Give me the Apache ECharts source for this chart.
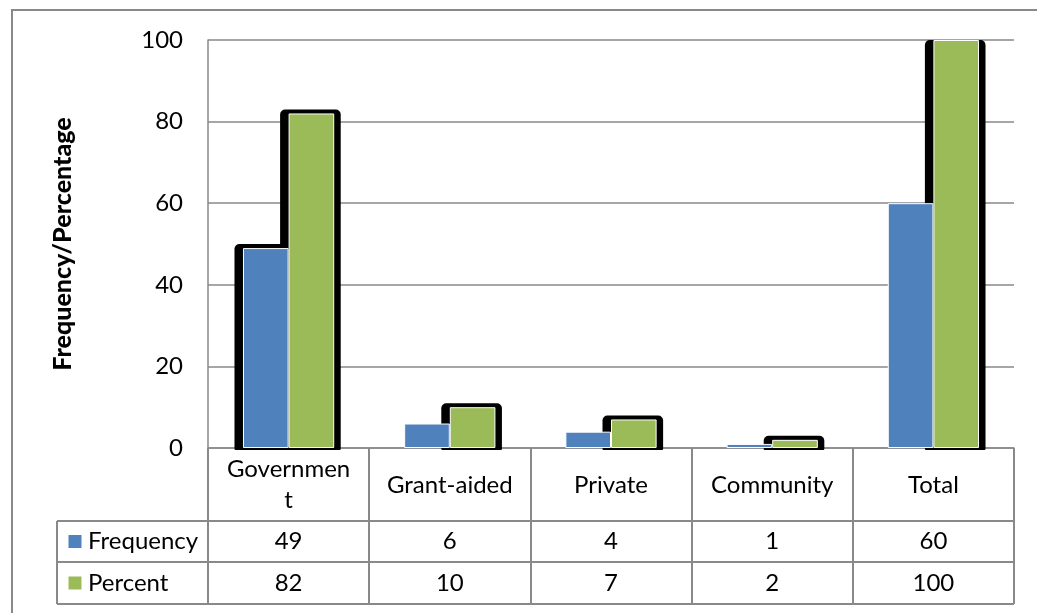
<!DOCTYPE html>
<html>
<head>
<meta charset="utf-8">
<title>Frequency/Percentage by school type</title>
<script src="https://cdn.jsdelivr.net/npm/echarts@6/dist/echarts.min.js"></script>
<style>
  html, body { margin: 0; padding: 0; background: #ffffff; }
  #chart { width: 1037px; height: 613px; }
</style>
</head>
<body>
<div id="chart"></div>
<script>
// Data
const categories = ['Government', 'Grant-aided', 'Private', 'Community', 'Total'];
const frequency = [49, 6, 4, 1, 60];
const percent = [82, 10, 7, 2, 100];
const yTicks = [0, 20, 40, 60, 80, 100];
const seriesNames = ['Frequency', 'Percent'];
const seriesColors = ['#4F81BD', '#9BBB59'];
// which bars carry the black drop shape
const frequencyShadow = [true, false, false, false, false];
const percentShadow = [true, true, true, true, true];

// Styling constants
const FONT = 'Lato';
const LINE = '#898989';
const BAR_FRACTION = 0.283;   // width of one bar as a share of the category band
const ROW_OFFSETS = [73, 114, 156]; // table row bottoms below the x axis line

const chart = echarts.init(document.getElementById('chart'), null, { renderer: 'canvas' });

// Black drop shape drawn behind the bars
function renderShadow(params, api) {
  const idx = api.value(0);
  const band = api.size([1, 0])[0];
  const w = band * BAR_FRACTION;
  const origin = api.coord([idx, 0]);
  const cx = origin[0];
  const base = origin[1];
  const topLimit = api.coord([idx, yTicks[yTicks.length - 1]])[1];
  const flags = [frequencyShadow[idx], percentShadow[idx]];
  const children = [];
  [api.value(1), api.value(2)].forEach(function (v, k) {
    if (!flags[k]) return;
    const x0 = cx - w + k * w;
    const yTop = api.coord([idx, v])[1];
    const top = Math.max(yTop - 4, topLimit);
    children.push({
      type: 'rect',
      shape: { x: x0 - 8.5, y: top, width: w + 15, height: base + 2 - top, r: [5, 5, 1, 1] },
      style: { fill: '#000000' }
    });
  });
  return { type: 'group', children: children };
}

const shadowData = categories.map(function (c, i) { return [i, frequency[i], percent[i]]; });

const option = {
  animation: false,
  backgroundColor: '#ffffff',
  grid: { left: 208, top: 40, right: 23, bottom: 165, containLabel: false },
  xAxis: {
    type: 'category',
    data: categories,
    boundaryGap: true,
    axisLine: { show: true, lineStyle: { color: LINE, width: 1.5 } },
    axisTick: { show: true, length: 156, lineStyle: { color: LINE, width: 2 } },
    axisLabel: {
      fontFamily: FONT, fontSize: 24, color: '#000000',
      margin: 37, verticalAlign: 'middle', lineHeight: 31,
      width: 130, overflow: 'breakAll', interval: 0
    },
    splitLine: { show: false }
  },
  yAxis: {
    type: 'value',
    min: yTicks[0],
    max: yTicks[yTicks.length - 1],
    interval: yTicks[1] - yTicks[0],
    name: 'Frequency/Percentage',
    nameLocation: 'middle',
    nameGap: 133,
    nameTextStyle: { fontFamily: FONT, fontSize: 25, fontWeight: 900, color: '#000000' },
    axisLine: { show: true, lineStyle: { color: LINE, width: 1.5 } },
    axisTick: { show: false },
    axisLabel: { fontFamily: FONT, fontSize: 24, color: '#000000', margin: 25 },
    splitLine: { lineStyle: { color: LINE, width: 1.5 } }
  },
  series: [
    {
      type: 'custom',
      name: 'shadow',
      renderItem: renderShadow,
      data: shadowData,
      encode: { x: 0, y: [1, 2] },
      z: 1,
      silent: true
    },
    {
      type: 'bar',
      name: seriesNames[0],
      data: frequency,
      barWidth: (BAR_FRACTION * 100) + '%',
      barGap: '0%',
      itemStyle: { color: seriesColors[0], borderColor: '#ffffff', borderWidth: 1 },
      z: 3
    },
    {
      type: 'bar',
      name: seriesNames[1],
      data: percent,
      barWidth: (BAR_FRACTION * 100) + '%',
      barGap: '0%',
      itemStyle: { color: seriesColors[1], borderColor: '#ffffff', borderWidth: 1 },
      z: 3
    }
  ]
};

chart.setOption(option);

// Data table underneath the plot: legend keys, row lines and values
function buildTable() {
  const base = chart.convertToPixel({ gridIndex: 0 }, [0, 0]);
  const c0 = chart.convertToPixel({ xAxisIndex: 0 }, 0);
  const c1 = chart.convertToPixel({ xAxisIndex: 0 }, 1);
  const band = c1 - c0;
  const left = c0 - band / 2;
  const right = c0 + band * (categories.length - 0.5);
  const tableLeft = 57;
  const y0 = base[1];
  const rows = ROW_OFFSETS.map(function (o) { return y0 + o; });
  const elements = [];

  // outer chart frame
  elements.push({
    type: 'rect', silent: true, z: 0,
    shape: { x: 12, y: 10, width: 1040, height: 620 },
    style: { fill: null, stroke: LINE, lineWidth: 2 }
  });

  // horizontal rules of the table
  elements.push({ type: 'line', silent: true, z: 10,
    shape: { x1: left, y1: rows[0], x2: right, y2: rows[0] },
    style: { stroke: LINE, lineWidth: 2 } });
  elements.push({ type: 'line', silent: true, z: 10,
    shape: { x1: tableLeft, y1: rows[0], x2: left, y2: rows[0] },
    style: { stroke: LINE, lineWidth: 2 } });
  [rows[1], rows[2]].forEach(function (y) {
    elements.push({ type: 'line', silent: true, z: 10,
      shape: { x1: tableLeft, y1: y, x2: right, y2: y },
      style: { stroke: LINE, lineWidth: 2 } });
  });
  // left edge of the legend column
  elements.push({ type: 'line', silent: true, z: 10,
    shape: { x1: tableLeft, y1: rows[0], x2: tableLeft, y2: rows[2] },
    style: { stroke: LINE, lineWidth: 2 } });

  const rowValues = [frequency, percent];
  rowValues.forEach(function (vals, r) {
    const yMid = (rows[r] + rows[r + 1]) / 2;
    // legend key
    elements.push({ type: 'rect', silent: true, z: 10,
      shape: { x: 68, y: yMid - 7, width: 14, height: 14 },
      style: { fill: seriesColors[r], stroke: '#ffffff', lineWidth: 1 } });
    elements.push({ type: 'text', silent: true, z: 10,
      x: 88, y: yMid,
      style: { text: seriesNames[r], fontFamily: FONT, fontSize: 24, fill: '#000000',
        align: 'left', verticalAlign: 'middle', textAlign: 'left', textVerticalAlign: 'middle' } });
    vals.forEach(function (v, i) {
      const cx = chart.convertToPixel({ xAxisIndex: 0 }, i);
      elements.push({ type: 'text', silent: true, z: 10,
        x: cx, y: yMid,
        style: { text: String(v), fontFamily: FONT, fontSize: 24, fill: '#000000',
          align: 'center', verticalAlign: 'middle', textAlign: 'center', textVerticalAlign: 'middle' } });
    });
  });

  chart.setOption({ graphic: { elements: elements } });
}

buildTable();
</script>
</body>
</html>
